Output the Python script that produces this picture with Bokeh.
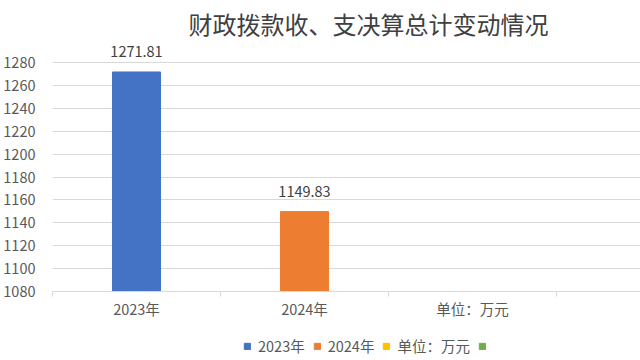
from bokeh.plotting import figure
from bokeh.layouts import column
from bokeh.models import (Range1d, FixedTicker, Label, Legend, LegendItem,
                          ColumnDataSource)
from bokeh.core.properties import value
from bokeh.embed import file_html
from bokeh.resources import INLINE

# ---- data ----
title_text = "财政拨款收、支决算总计变动情况"
categories = ["2023年", "2024年", "单位：万元"]
bar_values = [1271.81, 1149.83]
bar_labels = ["1271.81", "1149.83"]
series_names = ["2023年", "2024年", "单位：万元", " "]
series_colors = ["#4472C4", "#ED7D31", "#FFC000", "#70AD47"]
y_ticks = [1080, 1100, 1120, 1140, 1160, 1180, 1200, 1220, 1240, 1260, 1280]

FONT = "Noto Sans CJK SC"
FS = "14.5px"
TXT = "#595959"
GRID = "#D9D9D9"

y_min = 1080
px_per_unit = 228.5 / 200.0
frame_h = 290.5
y_max = y_min + frame_h / px_per_unit
main_h = 335
leg_h = 360 - main_h
left_border = 52

p = figure(width=640, height=main_h, output_backend="svg", toolbar_location=None,
           x_range=Range1d(0, 3.5), y_range=Range1d(y_min, y_max),
           min_border_left=left_border, min_border_right=0, min_border_top=0,
           min_border_bottom=int(round(main_h - frame_h)), outline_line_color=None)
p.background_fill_color = "white"
p.border_fill_color = "white"

# bars
xs = [i + 0.5 for i in range(len(bar_values))]
src = ColumnDataSource(dict(x=xs, top=bar_values, color=series_colors[:len(bar_values)],
                            lab=bar_labels))
p.vbar(x="x", top="top", bottom=y_min, width=0.286, color="color", source=src)
p.text(x="x", y="top", text="lab", source=src, text_align="center",
       text_baseline="middle", y_offset=-20, text_font=value(FONT),
       text_font_size="14.5px", text_color="#404040")

# axes
p.yaxis.ticker = FixedTicker(ticks=y_ticks)
p.yaxis.axis_line_color = None
p.yaxis.major_tick_line_color = None
p.yaxis.minor_tick_line_color = None
p.yaxis.major_label_standoff = 11
p.yaxis.major_label_text_font = FONT
p.yaxis.major_label_text_font_size = FS
p.yaxis.major_label_text_color = TXT

p.xaxis.ticker = FixedTicker(ticks=[i + 0.5 for i in range(len(categories))],
                             minor_ticks=[float(i) for i in range(len(categories) + 1)])
p.xaxis.major_label_overrides = {i + 0.5: c for i, c in enumerate(categories)}
p.xaxis.axis_line_color = GRID
p.xaxis.major_tick_line_color = None
p.xaxis.major_tick_out = 0
p.xaxis.minor_tick_line_color = GRID
p.xaxis.minor_tick_out = 5
p.xaxis.minor_tick_in = 0
p.xaxis.major_label_standoff = 1
p.xaxis.major_label_text_font = FONT
p.xaxis.major_label_text_font_size = FS
p.xaxis.major_label_text_color = TXT

p.xgrid.grid_line_color = None
p.ygrid.ticker = FixedTicker(ticks=y_ticks)
p.ygrid.grid_line_color = GRID

# title
p.add_layout(Label(x=316, y=frame_h - 22.5, x_units="screen", y_units="screen",
                   text=title_text, text_align="center", text_baseline="middle",
                   text_font=FONT, text_font_size="24px", text_color="#404040"))

# legend strip (separate small figure below the chart)
lf = figure(width=640, height=leg_h, output_backend="svg", toolbar_location=None,
            x_range=Range1d(0, 1), y_range=Range1d(0, 1),
            x_axis_location=None, y_axis_location=None,
            min_border=0, min_border_left=0, min_border_right=0,
            min_border_top=0, min_border_bottom=0, outline_line_color=None)
lf.xgrid.grid_line_color = None
lf.ygrid.grid_line_color = None
items = []
for name, col in zip(series_names, series_colors):
    r = lf.vbar(x=[0.5], top=[float("nan")], bottom=[0], width=0.2,
                fill_color=col, line_color=col)
    items.append(LegendItem(label=name, renderers=[r]))

legend = Legend(items=items, orientation="horizontal",
                location=(243 - left_border, leg_h - 13 - 8),
                border_line_color=None, background_fill_alpha=0,
                glyph_width=8, glyph_height=8, label_height=16,
                label_standoff=7, spacing=8, padding=0, margin=0,
                label_text_font=FONT, label_text_font_size=FS,
                label_text_color=TXT)
lf.add_layout(legend, "center")

layout = column(p, lf, spacing=0)
open("out.html", "w").write(file_html(layout, INLINE))
